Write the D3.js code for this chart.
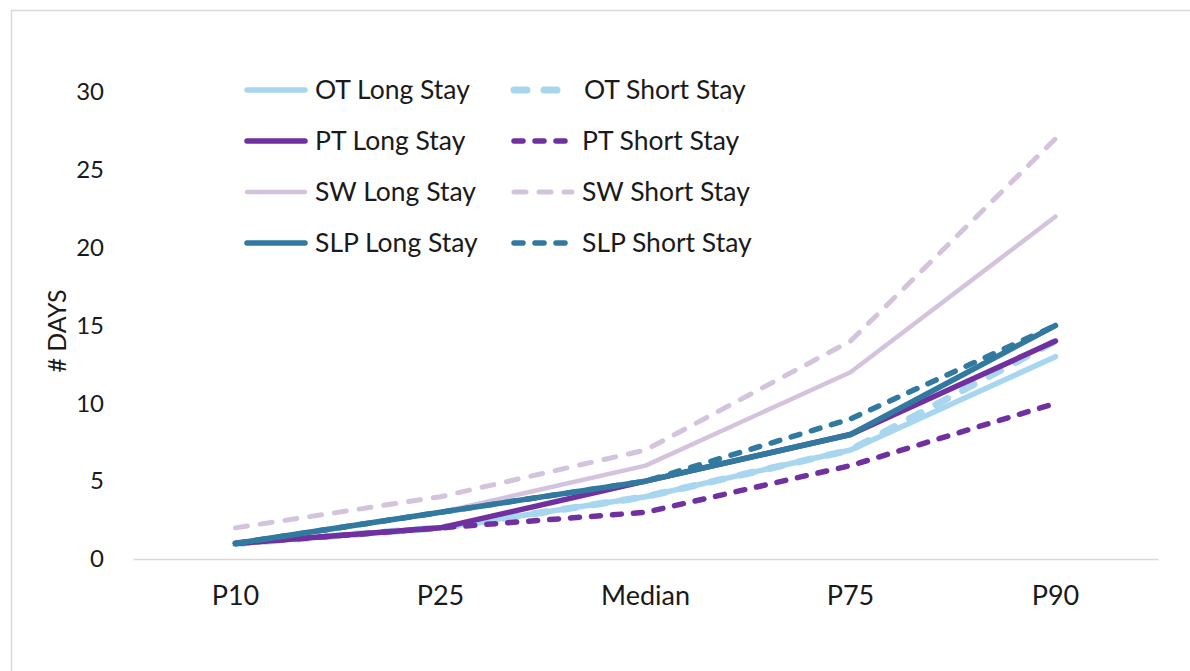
<!DOCTYPE html>
<html>
<head>
<meta charset="utf-8">
<script src="https://cdn.jsdelivr.net/npm/d3@7"></script>
<style>
  html, body { margin: 0; padding: 0; background: #fff; }
  svg { display: block; font-family: Lato, "Open Sans", sans-serif; }
</style>
</head>
<body>
<svg id="chart" width="1190" height="671"></svg>
<script>
// Percentile categories along the x axis
const categories = ["P10", "P25", "Median", "P75", "P90"];

// Days at each percentile, one array per discipline and stay type
const otLong   = [1, 2, 4, 7, 13];
const otShort  = [1, 2, 4, 7, 14];
const ptLong   = [1, 2, 5, 8, 14];
const ptShort  = [1, 2, 3, 6, 10];
const swLong   = [1, 3, 6, 12, 22];
const swShort  = [2, 4, 7, 14, 27];
const slpLong  = [1, 3, 5, 8, 15];
const slpShort = [1, 3, 5, 9, 15];

const yTicks = [0, 5, 10, 15, 20, 25, 30];

const series = [
  { name: "OT Long Stay",   values: otLong,   color: "#a8d6ef", width: 5.5, dash: null },
  { name: "OT Short Stay",  values: otShort,  color: "#a8d6ef", width: 7,   dash: "13,17" },
  { name: "PT Long Stay",   values: ptLong,   color: "#7030a0", width: 5.5, dash: null },
  { name: "PT Short Stay",  values: ptShort,  color: "#7030a0", width: 5.5, dash: "9,12" },
  { name: "SW Long Stay",   values: swLong,   color: "#d3c3dc", width: 4.5, dash: null },
  { name: "SW Short Stay",  values: swShort,  color: "#d3c3dc", width: 5,   dash: "12,13" },
  { name: "SLP Long Stay",  values: slpLong,  color: "#31799e", width: 5.5, dash: null },
  { name: "SLP Short Stay", values: slpShort, color: "#31799e", width: 5.5, dash: "9,12" }
];

const svg = d3.select("#chart");

// Outer frame
svg.append("rect")
  .attr("x", 11.5).attr("y", 10.5)
  .attr("width", 1300).attr("height", 800)
  .attr("fill", "none")
  .attr("stroke", "#d9d9d9")
  .attr("stroke-width", 1.5);

const plot = { left: 133, right: 1158, top: 92, bottom: 559 };

const x = d3.scaleBand()
  .domain(categories)
  .range([plot.left, plot.right]);

const y = d3.scaleLinear()
  .domain([0, 30])
  .range([plot.bottom, plot.top]);

// X axis: baseline and category labels
const xAxis = svg.append("g")
  .attr("transform", `translate(0,${plot.bottom})`)
  .call(d3.axisBottom(x).tickSize(0).tickPadding(27));
xAxis.select(".domain").attr("stroke", "#d9d9d9").attr("stroke-width", 1.5);
xAxis.selectAll("text")
  .attr("font-family", "Lato, sans-serif")
  .attr("font-size", 27)
  .attr("fill", "#1a1a1a");

// Y axis: labels only
const yAxis = svg.append("g")
  .attr("transform", `translate(104,0)`)
  .call(d3.axisLeft(y).tickValues(yTicks).tickSize(0).tickPadding(0));
yAxis.select(".domain").remove();
yAxis.selectAll("text")
  .attr("font-family", "Lato, sans-serif")
  .attr("font-size", 24)
  .attr("fill", "#1a1a1a");

// Y axis title
svg.append("text")
  .attr("transform", "translate(66,331) rotate(-90)")
  .attr("text-anchor", "middle")
  .attr("font-size", 25)
  .attr("fill", "#1a1a1a")
  .text("# DAYS");

// Series lines
const line = d3.line()
  .x((d, i) => x(categories[i]) + x.bandwidth() / 2)
  .y(d => y(d));

svg.append("g").selectAll("path")
  .data(series)
  .join("path")
  .attr("d", d => line(d.values))
  .attr("fill", "none")
  .attr("stroke", d => d.color)
  .attr("stroke-width", d => d.width)
  .attr("stroke-linecap", "round")
  .attr("stroke-linejoin", "round")
  .attr("stroke-dasharray", d => d.dash);

// Legend: two columns, four rows
const legend = svg.append("g");
const colX = [245, 512];
const rowY = [90, 141, 192, 243];
series.forEach((s, i) => {
  const cx = colX[i % 2];
  const cy = rowY[Math.floor(i / 2)];
  const g = legend.append("g");
  g.append("line")
    .attr("x1", cx + 2).attr("x2", cx + 60)
    .attr("y1", cy).attr("y2", cy)
    .attr("stroke", s.color)
    .attr("stroke-width", s.width)
    .attr("stroke-linecap", "round")
    .attr("stroke-dasharray", s.dash);
  g.append("text")
    .attr("x", cx + 70 + (i === 1 ? 2 : 0))
    .attr("y", cy)
    .attr("dy", "0.35em")
    .attr("font-size", 26.5)
    .attr("fill", "#1a1a1a")
    .text(s.name);
});
</script>
</body>
</html>
